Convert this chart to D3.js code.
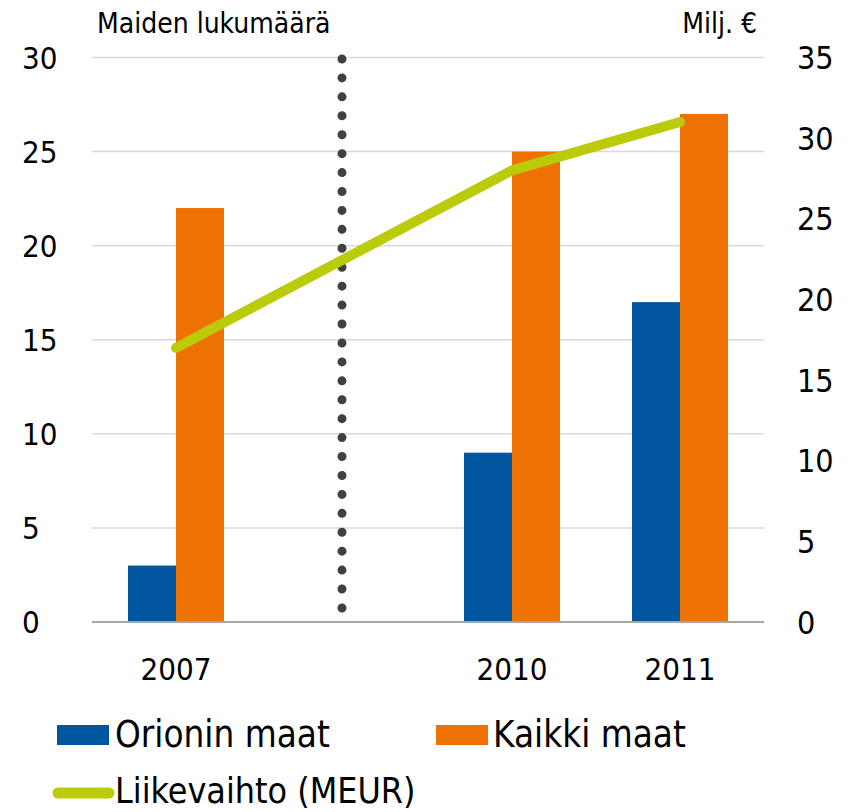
<!DOCTYPE html>
<html><head><meta charset="utf-8">
<script src="https://cdn.jsdelivr.net/npm/d3@7"></script>
<style>body{margin:0;background:#fff}svg{display:block}text{font-family:"DejaVu Sans Condensed","DejaVu Sans",sans-serif;fill:#000}</style>
</head><body>
<svg id="c" width="850" height="812"></svg>
<script>
const categories = ["2007", "", "2010", "2011"];
const orionin = [3, null, 9, 17];
const kaikki = [22, null, 25, 27];
const liikevaihto = [17, null, 28, 31];
const leftTicks = [0, 5, 10, 15, 20, 25, 30];
const rightTicks = [0, 5, 10, 15, 20, 25, 30, 35];
const seriesNames = ["Orionin maat", "Kaikki maat", "Liikevaihto (MEUR)"];
const colors = {blue: "#00559F", orange: "#EE7203", green: "#BCCB09"};

const svg = d3.select("#c");
const m = {l: 92, r: 764, t: 57.5, b: 622};
const x = d3.scaleBand().domain(categories.map((d,i)=>i)).range([m.l, m.r]);
const yL = d3.scaleLinear().domain([0, 30]).range([m.b, m.t]);
const yR = d3.scaleLinear().domain([0, 35]).range([m.b, m.t]);
const bw = 48;

// gridlines
svg.append("g").selectAll("line").data(leftTicks.filter(d=>d>0)).join("line")
  .attr("x1", m.l).attr("x2", m.r).attr("y1", d=>yL(d)).attr("y2", d=>yL(d))
  .attr("stroke", "#d9d9d9").attr("stroke-width", 1.5);

// left tick labels
svg.append("g").selectAll("text").data(leftTicks).join("text")
  .attr("x", 22).attr("y", d=>yL(d)).attr("dy", "0.36em")
  .attr("font-size", 31).text(d=>d);
// right tick labels
svg.append("g").selectAll("text").data(rightTicks).join("text")
  .attr("x", 797).attr("y", d=>yR(d)).attr("dy", "0.36em")
  .attr("font-size", 32).text(d=>d);

// axis titles
svg.append("text").attr("x", 97).attr("y", 33).attr("font-size", 28).text("Maiden lukumäärä");
svg.append("text").attr("x", 757).attr("y", 33).attr("text-anchor","end").attr("font-size", 28).text("Milj. €");

// bars
const cx = i => x(i) + x.bandwidth()/2;
svg.append("g").selectAll("rect").data(orionin.map((v,i)=>({v,i})).filter(d=>d.v!=null)).join("rect")
  .attr("x", d=>cx(d.i)-bw).attr("width", bw).attr("y", d=>yL(d.v)).attr("height", d=>yL(0)-yL(d.v))
  .attr("fill", colors.blue);
svg.append("g").selectAll("rect").data(kaikki.map((v,i)=>({v,i})).filter(d=>d.v!=null)).join("rect")
  .attr("x", d=>cx(d.i)).attr("width", bw).attr("y", d=>yL(d.v)).attr("height", d=>yL(0)-yL(d.v))
  .attr("fill", colors.orange);

// baseline
svg.append("line").attr("x1", m.l).attr("x2", m.r).attr("y1", yL(0)).attr("y2", yL(0))
  .attr("stroke", "#a6a6a6").attr("stroke-width", 2);

// dotted separator
svg.append("line").attr("x1", cx(1)-2).attr("x2", cx(1)-2).attr("y1", yL(30)+1.5).attr("y2", 610)
  .attr("stroke", "#404040").attr("stroke-width", 9).attr("stroke-linecap", "round")
  .attr("stroke-dasharray", "0 18.93");

// line
const pts = liikevaihto.map((v,i)=>({v,i})).filter(d=>d.v!=null);
svg.append("path").datum(pts)
  .attr("d", d3.line().x(d=>cx(d.i)).y(d=>yR(d.v)))
  .attr("fill", "none").attr("stroke", colors.green).attr("stroke-width", 10)
  .attr("stroke-linecap", "round").attr("stroke-linejoin", "round");

// x labels
svg.append("g").selectAll("text").data(categories.map((c,i)=>({c,i}))).join("text")
  .attr("x", d=>cx(d.i)).attr("y", 680).attr("text-anchor", "middle")
  .attr("font-size", 31).text(d=>d.c);

// legend
const lg = svg.append("g");
lg.append("rect").attr("x", 57).attr("y", 725).attr("width", 52).attr("height", 20).attr("fill", colors.blue);
lg.append("text").attr("x", 115).attr("y", 747).attr("font-size", 36.5).text(seriesNames[0]);
lg.append("rect").attr("x", 436).attr("y", 725).attr("width", 52).attr("height", 20).attr("fill", colors.orange);
lg.append("text").attr("x", 493).attr("y", 747).attr("font-size", 36.5).text(seriesNames[1]);
lg.append("line").attr("x1", 58).attr("x2", 109).attr("y1", 793).attr("y2", 793)
  .attr("stroke", colors.green).attr("stroke-width", 11).attr("stroke-linecap", "round");
lg.append("text").attr("x", 115).attr("y", 803).attr("font-size", 35.5).text(seriesNames[2]);
</script>
</body></html>
